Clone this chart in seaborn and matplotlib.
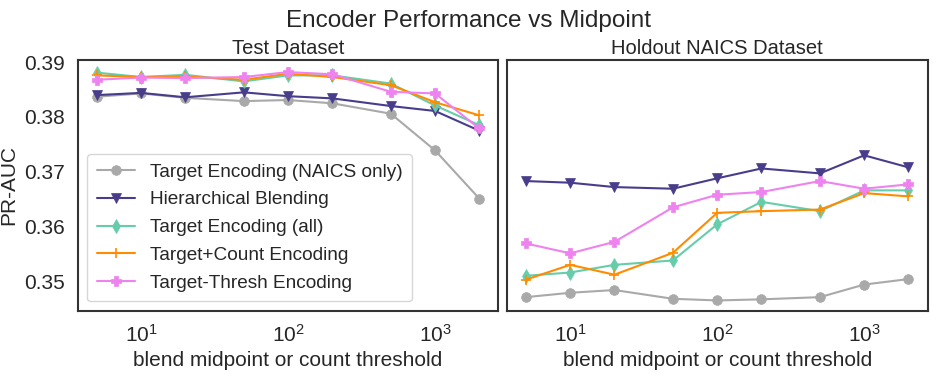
"""Encoder performance vs blend midpoint, test and holdout datasets."""

import matplotlib
matplotlib.use("Agg")
import matplotlib.pyplot as plt
import seaborn as sns
import pandas as pd

# x values: blend midpoint / count threshold
midpoints = [5, 10, 20, 50, 100, 200, 500, 1000, 2000]

series_names = [
    "Target Encoding (NAICS only)",
    "Hierarchical Blending",
    "Target Encoding (all)",
    "Target+Count Encoding",
    "Target-Thresh Encoding",
]

# PR-AUC on the test dataset
test_naics_only = [0.3837, 0.3843, 0.3835, 0.3829, 0.3831, 0.3825, 0.3806, 0.3739, 0.3651]
test_hier_blend = [0.3840, 0.3844, 0.3836, 0.3845, 0.3838, 0.3834, 0.3820, 0.3811, 0.3775]
test_target_all = [0.3881, 0.3873, 0.3877, 0.3865, 0.3876, 0.3876, 0.3861, 0.3821, 0.3785]
test_target_count = [0.3876, 0.3873, 0.3874, 0.3868, 0.3879, 0.3873, 0.3858, 0.3827, 0.3803]
test_target_thresh = [0.3868, 0.3872, 0.3871, 0.3873, 0.3882, 0.3878, 0.3846, 0.3843, 0.3779]

# PR-AUC on the holdout NAICS dataset
hold_naics_only = [0.3471, 0.3479, 0.3484, 0.3468, 0.3465, 0.3467, 0.3471, 0.3494, 0.3504]
hold_hier_blend = [0.3683, 0.3680, 0.3672, 0.3669, 0.3688, 0.3706, 0.3697, 0.3730, 0.3708]
hold_target_all = [0.3510, 0.3516, 0.3530, 0.3538, 0.3604, 0.3645, 0.3628, 0.3666, 0.3666]
hold_target_count = [0.3503, 0.3530, 0.3512, 0.3552, 0.3625, 0.3628, 0.3631, 0.3661, 0.3655]
hold_target_thresh = [0.3569, 0.3551, 0.3572, 0.3635, 0.3658, 0.3663, 0.3683, 0.3669, 0.3677]

colors = ["darkgray", "darkslateblue", "mediumaquamarine", "darkorange", "violet"]
markers = ["o", "v", "d", "+", "P"]

sns.set_theme(style="white", context="notebook")
plt.rcParams["font.family"] = ["Liberation Sans", "DejaVu Sans"]
plt.rcParams["axes.edgecolor"] = "#333333"
plt.rcParams["axes.linewidth"] = 1.5


def to_frame(values_list):
    rows = []
    for name, values in zip(series_names, values_list):
        for x, y in zip(midpoints, values):
            rows.append({"midpoint": x, "pr_auc": y, "encoder": name})
    return pd.DataFrame(rows)


panels = [
    ("Test Dataset", to_frame([test_naics_only, test_hier_blend, test_target_all,
                               test_target_count, test_target_thresh])),
    ("Holdout NAICS Dataset", to_frame([hold_naics_only, hold_hier_blend, hold_target_all,
                                        hold_target_count, hold_target_thresh])),
]

fig, axes = plt.subplots(1, 2, figsize=(9.36, 3.8), dpi=100, sharey=True)

for ax, (title, df) in zip(axes, panels):
    for name, color, marker in zip(series_names, colors, markers):
        sub = df[df["encoder"] == name]
        sns.lineplot(data=sub, x="midpoint", y="pr_auc", ax=ax, color=color,
                     marker=marker, markersize=7, linewidth=1.5,
                     markeredgecolor=color, mew=1.2 if marker == "+" else 0.5,
                     label=name)
    ax.set_xscale("log")
    ax.set_title(title, fontsize=14.5, pad=4)
    ax.set_xlabel("blend midpoint or count threshold", fontsize=15)
    ax.tick_params(labelsize=15)
    ax.minorticks_off()

axes[0].set_ylabel("PR-AUC", fontsize=15)
axes[0].set_ylim(0.3446, 0.3904)
axes[0].set_yticks([0.35, 0.36, 0.37, 0.38, 0.39])
axes[0].legend(loc="lower left", fontsize=13.7, frameon=True, borderpad=0.5,
               handlelength=2.0, labelspacing=0.55)
axes[1].get_legend().remove()

fig.suptitle("Encoder Performance vs Midpoint", fontsize=17.5, y=0.975)
fig.subplots_adjust(left=0.083, right=0.991, top=0.842, bottom=0.182, wspace=0.02)

plt.savefig("out.png", dpi=100)
plt.close()
